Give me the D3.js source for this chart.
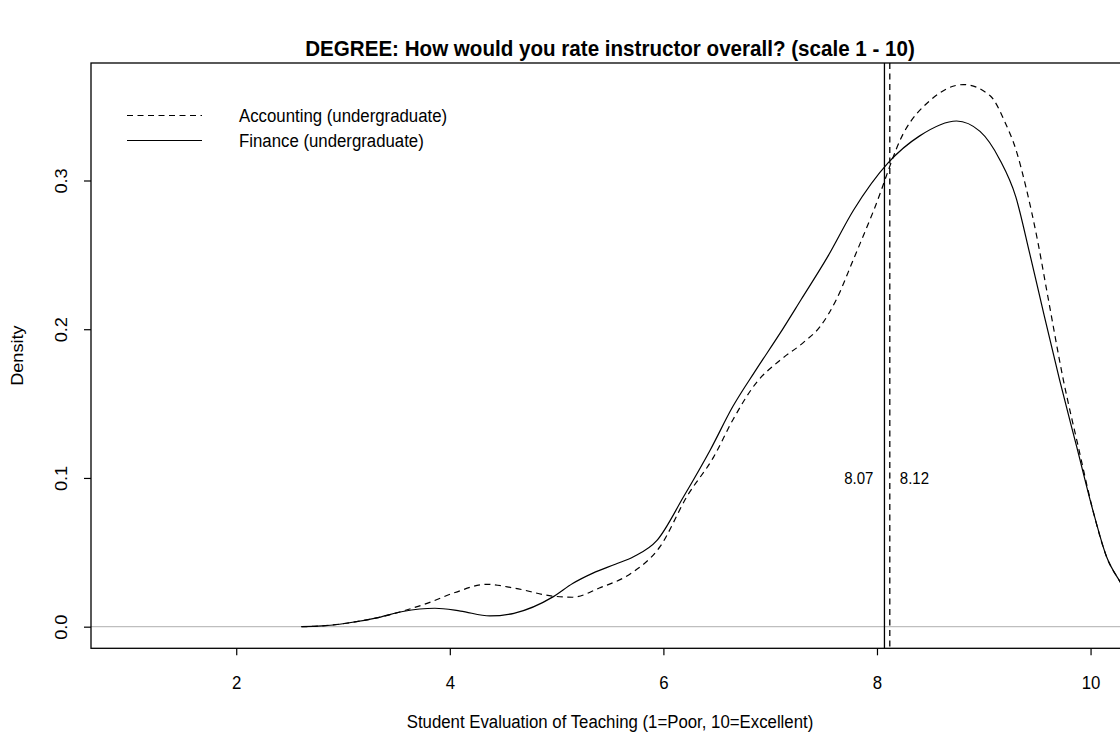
<!DOCTYPE html>
<html><head><meta charset="utf-8">
<script src="https://cdn.jsdelivr.net/npm/d3@7"></script>
<style>
html,body{margin:0;padding:0;background:#fff;}
svg text{font-family:"Liberation Sans",Arial,sans-serif;fill:#000;}
</style></head>
<body>
<svg id="chart" width="1120" height="732"></svg>
<script>
const titleText = "DEGREE: How would you rate instructor overall? (scale 1 - 10)";
const xLabel = "Student Evaluation of Teaching (1=Poor, 10=Excellent)";
const yLabel = "Density";
const seriesNames = ["Accounting (undergraduate)", "Finance (undergraduate)"];
const xTicks = [2, 4, 6, 8, 10];
const yTicks = [0.0, 0.1, 0.2, 0.3];
const means = [8.12, 8.07]; // Accounting, Finance

const accX = [2.61, 2.8, 3.03, 3.34, 3.56, 3.8, 4.05, 4.34, 4.6, 4.97, 5.15, 5.4, 5.7, 5.97, 6.22, 6.47, 6.65, 6.87, 7.09, 7.31, 7.47, 7.62, 7.78, 7.97, 8.25, 8.5, 8.81, 9.06, 9.2, 9.3, 9.4, 9.5, 9.6, 9.745, 9.885, 10.03, 10.15, 10.27, 10.4];
const accY = [0, 0.0005, 0.0023, 0.0063, 0.0105, 0.016, 0.023, 0.0285, 0.026, 0.0205, 0.0198, 0.026, 0.036, 0.054, 0.0875, 0.114, 0.139, 0.164, 0.179, 0.191, 0.202, 0.220, 0.247, 0.280, 0.332, 0.354, 0.3645, 0.357, 0.339, 0.321, 0.294, 0.261, 0.222, 0.166, 0.121, 0.076, 0.047, 0.031, 0.018];

const finX = [2.61, 2.8, 3.03, 3.34, 3.56, 3.86, 4.1, 4.375, 4.6, 4.97, 5.15, 5.34, 5.55, 5.72, 5.94, 6.19, 6.44, 6.65, 6.87, 7.09, 7.29, 7.54, 7.78, 8.106, 8.4, 8.745, 8.965, 9.15, 9.3, 9.43, 9.56, 9.71, 9.87, 10.03, 10.15, 10.27, 10.4];
const finY = [0, 0.0005, 0.0023, 0.0063, 0.0102, 0.0124, 0.0105, 0.0072, 0.009, 0.0202, 0.029, 0.036, 0.042, 0.047, 0.058, 0.0875, 0.119, 0.148, 0.173, 0.197, 0.220, 0.249, 0.280, 0.312, 0.330, 0.340, 0.333, 0.314, 0.289, 0.251, 0.211, 0.166, 0.121, 0.076, 0.047, 0.031, 0.018];

const svg = d3.select("#chart");
const L = 91, R = 1129, T = 63, B = 648.3;
const x = d3.scaleLinear().domain([0.64, 10.36]).range([L, R]);
const y = d3.scaleLinear().domain([-0.01454, 0.3790]).range([B, T]);
const FS = 16.8, SY = 1.08;

// horizontal text with slight vertical stretch
function htext(px, py, txt, size, anchor, bold) {
  const t = svg.append("text").attr("transform", `translate(${px},${py}) scale(1,${SY})`)
    .attr("text-anchor", anchor).style("font-size", size + "px").text(txt);
  if (bold) t.style("font-weight", "bold");
  return t;
}

svg.append("defs").append("clipPath").attr("id","clip")
  .append("rect").attr("x", L).attr("y", T).attr("width", R - L).attr("height", B - T);

// title
htext((L + R) / 2, 56, titleText, 20.6, "middle", true);

// zero line
svg.append("line").attr("x1", L).attr("x2", R).attr("y1", y(0)).attr("y2", y(0))
  .attr("stroke","#bebebe").attr("stroke-width",1.2);

const line = d3.line().x(d => x(d[0])).y(d => y(d[1])).curve(d3.curveMonotoneX);
const g = svg.append("g").attr("clip-path","url(#clip)");
g.append("path").datum(accX.map((v,i)=>[v, accY[i]])).attr("d", line)
  .attr("fill","none").attr("stroke","#000").attr("stroke-width",1.2).attr("stroke-dasharray","6,4.5");
g.append("path").datum(finX.map((v,i)=>[v, finY[i]])).attr("d", line)
  .attr("fill","none").attr("stroke","#000").attr("stroke-width",1.2);

// mean lines
g.append("line").attr("x1", x(means[1])).attr("x2", x(means[1])).attr("y1", T).attr("y2", B)
  .attr("stroke","#000").attr("stroke-width",1.3);
g.append("line").attr("x1", x(means[0])).attr("x2", x(means[0])).attr("y1", T).attr("y2", B)
  .attr("stroke","#000").attr("stroke-width",1.3).attr("stroke-dasharray","6,4.5");
htext(x(means[1]) - 11, y(0.1) + 6, means[1].toFixed(2), 15, "end");
htext(x(means[0]) + 10, y(0.1) + 6, means[0].toFixed(2), 15, "start");

// box
svg.append("rect").attr("x", L).attr("y", T).attr("width", R - L).attr("height", B - T)
  .attr("fill","none").attr("stroke","#000").attr("stroke-width",1.3);

// x axis
const xa = svg.append("g").attr("transform", `translate(0,${B})`)
  .call(d3.axisBottom(x).tickValues(xTicks).tickSize(7).tickPadding(22).tickFormat(d3.format("d")));
xa.select(".domain").remove();
xa.selectAll("line").attr("stroke","#000").attr("stroke-width",1.2);
xa.selectAll("text").style("font-size", FS + "px").attr("font-family",null)
  .attr("y", null).attr("dy", null)
  .attr("transform", `translate(0,41) scale(1,${SY})`);

// y axis
const ya = svg.append("g").attr("transform", `translate(${L},0)`)
  .call(d3.axisLeft(y).tickValues(yTicks).tickSize(7).tickFormat(d3.format(".1f")));
ya.select(".domain").remove();
ya.selectAll("line").attr("stroke","#000").attr("stroke-width",1.2);
ya.selectAll("text").style("font-size", FS + "px").attr("font-family",null)
  .attr("x", null).attr("dy", null).attr("y", null).attr("text-anchor","middle")
  .attr("transform",`translate(-24,0) rotate(-90) scale(${SY},1)`);

// axis titles
htext((L + R) / 2, 728, xLabel, FS, "middle");
svg.append("text").attr("transform", `translate(23,${(T + B) / 2}) rotate(-90) scale(${SY},1)`)
  .attr("text-anchor","middle").style("font-size", FS + "px").text(yLabel);

// legend
const legY = [115.5, 140.5];
const dashes = ["6,4.5", null];
seriesNames.forEach((n, i) => {
  svg.append("line").attr("x1", 127).attr("x2", 202).attr("y1", legY[i]).attr("y2", legY[i])
    .attr("stroke","#000").attr("stroke-width",1.2).attr("stroke-dasharray", dashes[i]);
  htext(239, legY[i] + 6.3, n, FS, "start");
});
</script>
</body></html>
